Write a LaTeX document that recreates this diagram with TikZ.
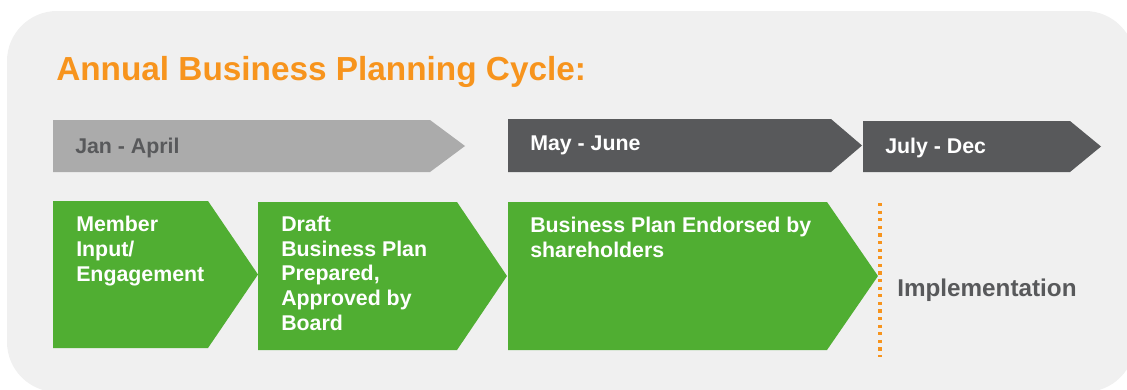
\documentclass[tikz,border=0pt]{standalone}
\usepackage{fontspec}
\setmainfont{Liberation Sans}
\definecolor{panelbg}{HTML}{F0F0F0}
\definecolor{titleorange}{HTML}{F7941D}
\definecolor{lightfill}{HTML}{ABABAB}
\definecolor{darkfill}{HTML}{58595B}
\definecolor{stepgreen}{HTML}{50AE32}
\tikzset{
 monthlbl/.style={anchor=base west,inner sep=0pt,font=\fontsize{16}{18.4}\selectfont\bfseries},
 steptxt/.style={anchor=base west,inner sep=0pt,align=left,text=white,font=\fontsize{16}{18.4}\selectfont\bfseries},
}
\begin{document}
\begin{tikzpicture}[x=0.75pt,y=-0.75pt]
\useasboundingbox (0,0) rectangle (1127,389);
\clip (0,0) rectangle (1127,389);
\fill[panelbg,rounded corners=37.5pt] (7,11) rectangle (1135,392);
\node[anchor=base west,inner sep=0pt,text=titleorange,font=\fontsize{25}{30}\selectfont\bfseries] (title) at (56,80) {Annual Business Planning Cycle:};
% month bars and steps
\foreach \xa/\xb/\xc/\yt/\yb/\col in {53/430/465/120/172/lightfill, 508/831/862/119/172/darkfill, 863/1070/1101/121/172/darkfill, 53/208/258/201/348/stepgreen, 258/457/507/202/350/stepgreen, 508/827/878/202/350/stepgreen} {
 \fill[\col] (\xa,\yt) -- (\xb,\yt) -- (\xc,{(\yt+\yb)/2}) -- (\xb,\yb) -- (\xa,\yb) -- cycle;
};
\node[monthlbl,text=darkfill] (janapr) at (75,153) {Jan - April};
\node[monthlbl,text=white] (mayjun) at (530,150) {May - June};
\node[monthlbl,text=white] (julydec) at (885,153) {July - Dec};
% base = last line
\node[steptxt] (input) at (76,281) {Member\\Input/\\Engagement};
\node[steptxt] (draft) at (281,330) {Draft\\Business Plan\\Prepared,\\Approved by\\Board};
\node[steptxt] (endorse) at (530,257) {Business Plan Endorsed by\\shareholders};
\coordinate (divtop) at (880,203);
\coordinate (divbot) at (880,357);
\draw[titleorange,line width=2.4pt,dash pattern=on 2.4pt off 3.3pt] (divtop) -- (divbot);
\node[anchor=base west,inner sep=0pt,text=darkfill,font=\fontsize{18.2}{21}\selectfont\bfseries] (impl) at (897,296) {Implementation};
\end{tikzpicture}
\end{document}
